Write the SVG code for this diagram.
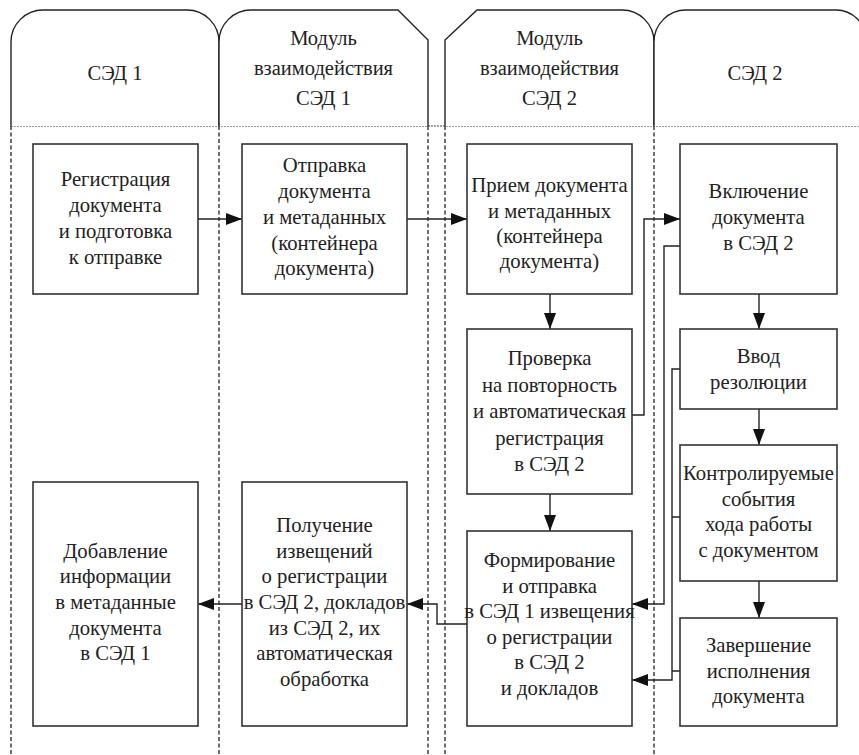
<svg xmlns="http://www.w3.org/2000/svg" width="859" height="755" viewBox="0 0 859 755">
<style>
.hdr{fill:#fff;stroke:#222;stroke-width:1.4}
.lane{fill:none;stroke:#222;stroke-width:1.3;stroke-dasharray:4,2.5}
.hline{fill:none;stroke:#444;stroke-width:1.2;stroke-dasharray:2,1}
.box{fill:#fff;stroke:#333;stroke-width:1.6}
.t{font-size:20.7px;fill:#222;text-anchor:middle}
.h{font-size:20.5px;fill:#222;text-anchor:middle}
.c{fill:none;stroke:#222;stroke-width:1.4}
</style>
<defs>
<marker id="ah" markerWidth="16" markerHeight="12" refX="16" refY="6" orient="auto" markerUnits="userSpaceOnUse">
<path d="M0,0 L16,6 L0,12 z" fill="#111"/>
</marker>
</defs>
<rect width="859" height="755" fill="#fff"/>
<g id="lanes">
<path class="lane" d="M11,126 V755 M219,126 V755 M428,126 V755 M445,126 V755 M654,126 V755"/>
<path class="hline" d="M11,126 H859"/>
</g>
<g font-family="Liberation Serif, serif">
<g id="header1">
<path class="hdr" d="M11,126 V42 A32,32 0 0 1 43,10 H187 A32,32 0 0 1 219,42 V126"/>
<text class="h" x="115" y="80">СЭД 1</text>
</g>
<g id="header2">
<path class="hdr" d="M219,126 V42 A32,32 0 0 1 251,10 H398 L428,40 V126"/>
<text class="h" x="323.5" y="45">Модуль</text>
<text class="h" x="323.5" y="75">взаимодействия</text>
<text class="h" x="323.5" y="105">СЭД 1</text>
</g>
<g id="header3">
<path class="hdr" d="M445,126 V40 L477,10 H622 A32,32 0 0 1 654,42 V126"/>
<text class="h" x="549.5" y="45">Модуль</text>
<text class="h" x="549.5" y="75">взаимодействия</text>
<text class="h" x="549.5" y="105">СЭД 2</text>
</g>
<g id="header4">
<path class="hdr" d="M654,126 V42 A32,32 0 0 1 686,10 H836 A30,30 0 0 1 866,40 V126"/>
<text class="h" x="755" y="80">СЭД 2</text>
</g>
<g id="connectors">
<path class="c" d="M198,219 H242" marker-end="url(#ah)"/>
<path class="c" d="M407,219 H467" marker-end="url(#ah)"/>
<path class="c" d="M550,294 V329" marker-end="url(#ah)"/>
<path class="c" d="M632,415 H644 V219 H680" marker-end="url(#ah)"/>
<path class="c" d="M680,246 H664 V604 H632" marker-end="url(#ah)"/>
<path class="c" d="M759,294 V329" marker-end="url(#ah)"/>
<path class="c" d="M759,409 V445" marker-end="url(#ah)"/>
<path class="c" d="M759,581 V618" marker-end="url(#ah)"/>
<path class="c" d="M680,369 H672 V680 H632" marker-end="url(#ah)"/>
<path class="c" d="M680,517 H672 M680,671 H672"/>
<path class="c" d="M550,494 V531" marker-end="url(#ah)"/>
<path class="c" d="M467,624 H437 V604 H407" marker-end="url(#ah)"/>
<path class="c" d="M242,604 H198" marker-end="url(#ah)"/>
</g>
<g id="n1">
<rect class="box" x="33" y="144" width="165" height="150"/>
<text class="t" x="115.5" y="185.5">Регистрация</text>
<text class="t" x="115.5" y="211.5">документа</text>
<text class="t" x="115.5" y="237.5">и подготовка</text>
<text class="t" x="115.5" y="263.5">к отправке</text>
</g>
<g id="n2">
<rect class="box" x="242" y="144" width="165" height="150"/>
<text class="t" x="324.5" y="172">Отправка</text>
<text class="t" x="324.5" y="198">документа</text>
<text class="t" x="324.5" y="224">и метаданных</text>
<text class="t" x="324.5" y="249.5">(контейнера</text>
<text class="t" x="324.5" y="275">документа)</text>
</g>
<g id="n3">
<rect class="box" x="467" y="144" width="165" height="150"/>
<text class="t" x="549.5" y="192">Прием документа</text>
<text class="t" x="549.5" y="217.5">и метаданных</text>
<text class="t" x="549.5" y="243">(контейнера</text>
<text class="t" x="549.5" y="268">документа)</text>
</g>
<g id="n4">
<rect class="box" x="680" y="144" width="157" height="150"/>
<text class="t" x="758.5" y="198">Включение</text>
<text class="t" x="758.5" y="224">документа</text>
<text class="t" x="758.5" y="250">в СЭД 2</text>
</g>
<g id="n5">
<rect class="box" x="467" y="329" width="165" height="165"/>
<text class="t" x="549.5" y="365">Проверка</text>
<text class="t" x="549.5" y="391.5">на повторность</text>
<text class="t" x="549.5" y="418">и автоматическая</text>
<text class="t" x="549.5" y="444.5">регистрация</text>
<text class="t" x="549.5" y="471">в СЭД 2</text>
</g>
<g id="n6">
<rect class="box" x="680" y="329" width="157" height="80"/>
<text class="t" x="758.5" y="363">Ввод</text>
<text class="t" x="758.5" y="389">резолюции</text>
</g>
<g id="n7">
<rect class="box" x="680" y="445" width="157" height="136"/>
<text class="t" x="758.5" y="479.5">Контролируемые</text>
<text class="t" x="758.5" y="505.5">события</text>
<text class="t" x="758.5" y="531">хода работы</text>
<text class="t" x="758.5" y="556.5">с документом</text>
</g>
<g id="n8">
<rect class="box" x="680" y="618" width="157" height="108"/>
<text class="t" x="758.5" y="652">Завершение</text>
<text class="t" x="758.5" y="677.5">исполнения</text>
<text class="t" x="758.5" y="703">документа</text>
</g>
<g id="n9">
<rect class="box" x="467" y="531" width="165" height="195"/>
<text class="t" x="549.5" y="567">Формирование</text>
<text class="t" x="549.5" y="592.5">и отправка</text>
<text class="t" x="549.5" y="618">в СЭД 1 извещения</text>
<text class="t" x="549.5" y="643.5">о регистрации</text>
<text class="t" x="549.5" y="669">в СЭД 2</text>
<text class="t" x="549.5" y="694.5">и докладов</text>
</g>
<g id="n10">
<rect class="box" x="242" y="482" width="165" height="244"/>
<text class="t" x="324.5" y="532">Получение</text>
<text class="t" x="324.5" y="557.5">извещений</text>
<text class="t" x="324.5" y="583">о регистрации</text>
<text class="t" x="324.5" y="608.5">в СЭД 2, докладов</text>
<text class="t" x="324.5" y="634.5">из СЭД 2, их</text>
<text class="t" x="324.5" y="660">автоматическая</text>
<text class="t" x="324.5" y="686">обработка</text>
</g>
<g id="n11">
<rect class="box" x="33" y="482" width="165" height="244"/>
<text class="t" x="115.5" y="557.5">Добавление</text>
<text class="t" x="115.5" y="583">информации</text>
<text class="t" x="115.5" y="608.5">в метаданные</text>
<text class="t" x="115.5" y="634.5">документа</text>
<text class="t" x="115.5" y="660">в СЭД 1</text>
</g>
</g>
</svg>
